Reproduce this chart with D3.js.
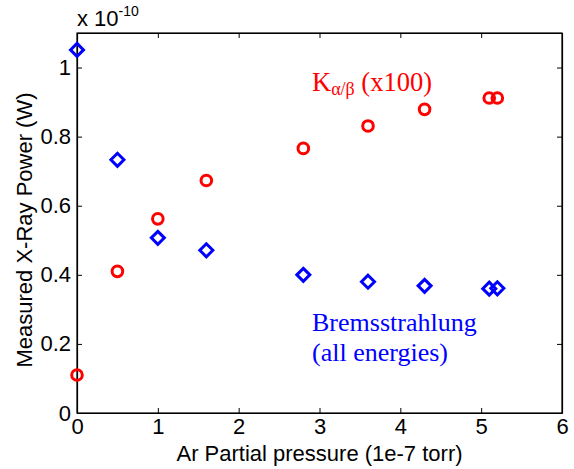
<!DOCTYPE html>
<html>
<head>
<meta charset="utf-8">
<script src="https://cdn.jsdelivr.net/npm/d3@7"></script>
<style>
  body { margin: 0; background: #fff; }
  text { font-family: "Liberation Sans", Arial, sans-serif; }
  .note { font-family: "Liberation Serif", "Times New Roman", serif; }
</style>
</head>
<body>
<div id="chart"></div>
<script>
// Ar partial pressure (1e-7 torr)
var pressure = [0, 0.5, 1.0, 1.6, 2.8, 3.6, 4.3, 5.1, 5.2];
// K alpha/beta (x100), units of 1e-10 W
var kab = [0.11, 0.41, 0.562, 0.673, 0.766, 0.831, 0.879, 0.912, 0.912];
// Bremsstrahlung (all energies), units of 1e-10 W
var brems = [1.051, 0.733, 0.507, 0.471, 0.400, 0.380, 0.368, 0.360, 0.361];

var xTicks = [0, 1, 2, 3, 4, 5, 6];
var yTicks = [0, 0.2, 0.4, 0.6, 0.8, 1];

var width = 574, height = 469;
var margin = {top: 33, right: 12, bottom: 56, left: 77};
var w = width - margin.left - margin.right,
    h = height - margin.top - margin.bottom;

var svg = d3.select("#chart")
    .append("svg")
    .attr("width", width)
    .attr("height", height);

var g = svg.append("g")
    .attr("transform", "translate(" + margin.left + "," + margin.top + ")");

var x = d3.scaleLinear()
    .domain([0, 6])
    .range([0, w]);

var y = d3.scaleLinear()
    .domain([0, 1.1])
    .range([h, 0]);

function fmt(d) { return d === 0 ? "0" : d3.format("~g")(d); }

// axes, ticks pointing inward like matlab
var xAxis = d3.axisBottom(x).tickValues(xTicks).tickSizeInner(-5).tickSizeOuter(0).tickPadding(5).tickFormat(fmt);
var xTop = d3.axisTop(x).tickValues(xTicks).tickSizeInner(-5).tickSizeOuter(0).tickFormat("");
var yAxis = d3.axisLeft(y).tickValues(yTicks).tickSizeInner(-5).tickSizeOuter(0).tickPadding(6).tickFormat(fmt);
var yRight = d3.axisRight(y).tickValues(yTicks).tickSizeInner(-5).tickSizeOuter(0).tickFormat("");

g.append("g").attr("class", "axis")
    .attr("transform", "translate(0," + h + ")")
    .call(xAxis);
g.append("g").attr("class", "axis").call(xTop);
g.append("g").attr("class", "axis").call(yAxis);
g.append("g").attr("class", "axis")
    .attr("transform", "translate(" + w + ",0)")
    .call(yRight);

g.selectAll(".axis path").attr("stroke", "#000").attr("stroke-width", 1.2);
g.selectAll(".axis line").attr("stroke", "#000");
g.selectAll(".axis text")
    .style("font-size", "22px")
    .attr("fill", "#000");

// box
g.append("rect")
    .attr("width", w)
    .attr("height", h)
    .attr("fill", "none")
    .attr("stroke", "#000")
    .attr("stroke-width", 1.2);

// exponent label
var ex = svg.append("text")
    .attr("x", margin.left)
    .attr("y", 26)
    .style("font-size", "22px");
ex.append("tspan").text("x 10");
ex.append("tspan").attr("dy", -10).style("font-size", "14px").text("-10");

// axis titles
svg.append("text")
    .attr("x", margin.left + w / 2)
    .attr("y", 461)
    .attr("text-anchor", "middle")
    .style("font-size", "22px")
    .text("Ar Partial pressure (1e-7 torr)");

svg.append("text")
    .attr("transform", "translate(32,230) rotate(-90)")
    .attr("text-anchor", "middle")
    .style("font-size", "22px")
    .text("Measured X-Ray Power (W)");

// red circles
g.selectAll(".kab")
    .data(pressure)
    .enter().append("circle")
    .attr("class", "kab")
    .attr("cx", function(d) { return x(d); })
    .attr("cy", function(d, i) { return y(kab[i]); })
    .attr("r", 5.3)
    .attr("fill", "none")
    .attr("stroke", "#ff0000")
    .attr("stroke-width", 3);

// blue diamonds
var diamond = "M0,-6.5L6.5,0L0,6.5L-6.5,0Z";
g.selectAll(".brems")
    .data(pressure)
    .enter().append("path")
    .attr("class", "brems")
    .attr("d", diamond)
    .attr("transform", function(d, i) { return "translate(" + x(d) + "," + y(brems[i]) + ")"; })
    .attr("fill", "none")
    .attr("stroke", "#0000ff")
    .attr("stroke-width", 3);

// annotations
var k = svg.append("text")
    .attr("class", "note")
    .attr("x", 312)
    .attr("y", 91)
    .attr("fill", "#ff0000")
    .style("font-size", "26.5px");
k.append("tspan").text("K");
k.append("tspan").attr("dy", 4).style("font-size", "18px").text("\u03b1/\u03b2");
k.append("tspan").attr("dy", -4).text(" (x100)");

svg.append("text")
    .attr("class", "note")
    .attr("x", 312)
    .attr("y", 331)
    .attr("fill", "#0000ff")
    .style("font-size", "26px")
    .text("Bremsstrahlung");
svg.append("text")
    .attr("class", "note")
    .attr("x", 312)
    .attr("y", 361)
    .attr("fill", "#0000ff")
    .style("font-size", "26px")
    .text("(all energies)");
</script>
</body>
</html>
